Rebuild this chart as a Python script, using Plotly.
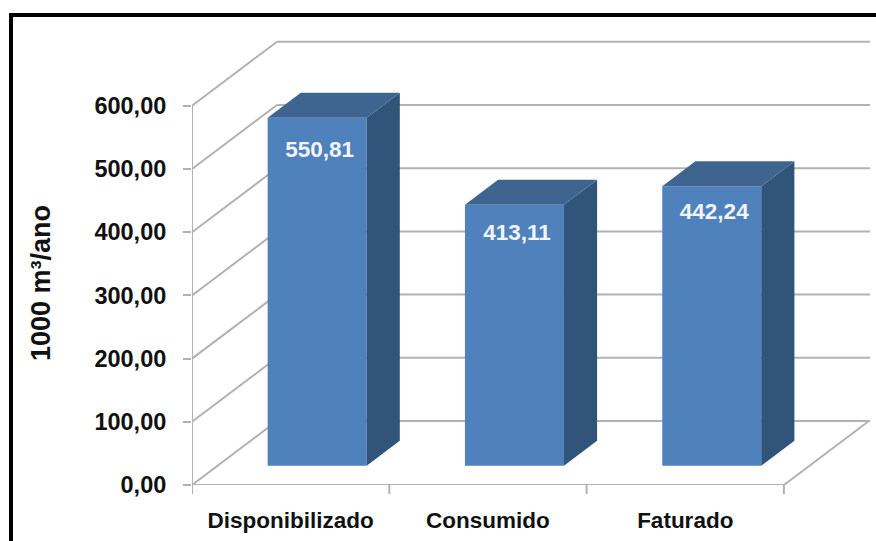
import plotly.graph_objects as go

categories = ["Disponibilizado", "Consumido", "Faturado"]
values = [550.81, 413.11, 442.24]
y_ticks = [0, 100, 200, 300, 400, 500, 600]
y_tick_labels = ["0,00", "100,00", "200,00", "300,00", "400,00", "500,00", "600,00"]
value_labels = ["550,81", "413,11", "442,24"]
y_title = "1000 m³/ano"

# plot area in page pixels and the scale of each axis
L, R, T, B = 192, 876, 30, 485
W, H = 876, 541
PX_X = 197.3   # px per category
PX_Y = 0.632   # px per value unit

# oblique projection of the fake 3D depth (fraction 0..1 of the floor depth)
DEPTH_X = 85 / PX_X
DEPTH_Y = 64 / PX_Y
BAR_NEAR = 0.30
BAR_FAR = 0.69
BAR_W = 99 / PX_X
BAR_SHIFT = 1 / PX_X
X_MIN = -0.5
X_MAX = X_MIN + (R - L) / PX_X
Y_MAX = (B - T) / PX_Y
WALL_END = X_MIN + (870 - L) / PX_X - DEPTH_X  # gridlines end, expressed on the front plane
LABEL_DROP = [34, 30, 27]   # px below the bar top
LABEL_SHIFT = 2.5 / PX_X

GRID = "#b2b2b2"
FRONT = "#4f81bd"
SIDE = "#31547b"
TOP = "#3f648f"
FONT = "Liberation Sans"


def seg(x0, y0, x1, y1, color=GRID, width=2):
    return dict(type="line", xref="x", yref="y", x0=x0, y0=y0, x1=x1, y1=y1,
                line=dict(color=color, width=width), layer="below")


def paper_rect(px0, py0, px1, py1):
    return dict(type="rect", xref="paper", yref="paper",
                x0=(px0 - L) / (R - L), x1=(px1 - L) / (R - L),
                y0=(B - py0) / (B - T), y1=(B - py1) / (B - T),
                fillcolor="#000000", line=dict(width=0), layer="above")


shapes = []
for t in y_ticks:
    shapes.append(seg(X_MIN, t, X_MIN + DEPTH_X, t + DEPTH_Y))
    shapes.append(seg(X_MIN + DEPTH_X, t + DEPTH_Y, WALL_END + DEPTH_X, t + DEPTH_Y))
shapes.append(seg(X_MIN, 0, X_MIN, y_ticks[-1]))
n = len(categories)
shapes.append(seg(X_MIN, 0, X_MIN + n, 0))
shapes.append(seg(X_MIN + n, 0, X_MIN + n + DEPTH_X, DEPTH_Y))
for i in range(n + 1):
    shapes.append(dict(type="line", xref="x", yref="paper", x0=X_MIN + i, x1=X_MIN + i,
                       ysizemode="pixel", yanchor=0, y0=0, y1=-9,
                       line=dict(color=GRID, width=2)))
shapes.append(paper_rect(9, 13, 13, H))
shapes.append(paper_rect(9, 13, W, 17))

fig = go.Figure()
base = BAR_NEAR * DEPTH_Y
cx = [i + BAR_NEAR * DEPTH_X + BAR_SHIFT for i in range(n)]
fig.add_trace(go.Bar(x=cx, y=values, base=[base] * n, width=BAR_W,
                     marker=dict(color=FRONT, line=dict(width=0)), hoverinfo="skip"))

d = BAR_FAR - BAR_NEAR
for c, v in zip(cx, values):
    xr = c + BAR_W / 2
    xl = c - BAR_W / 2
    yt = base + v
    ox, oy = d * DEPTH_X, d * DEPTH_Y
    fig.add_trace(go.Scatter(x=[xr, xr + ox, xr + ox, xr, xr], y=[base, base + oy, yt + oy, yt, base],
                             mode="lines", fill="toself", fillcolor=SIDE, line=dict(width=0),
                             hoverinfo="skip"))
    fig.add_trace(go.Scatter(x=[xl, xl + ox, xr + ox, xr, xl], y=[yt, yt + oy, yt + oy, yt, yt],
                             mode="lines", fill="toself", fillcolor=TOP, line=dict(width=0),
                             hoverinfo="skip"))

fig.add_trace(go.Scatter(x=[c + LABEL_SHIFT for c in cx],
                         y=[base + v - drop / PX_Y for v, drop in zip(values, LABEL_DROP)],
                         mode="text",
                         text=value_labels, textposition="middle center",
                         textfont=dict(family=FONT, size=22.5, color="#f2f6fb", weight="bold"),
                         hoverinfo="skip"))

fig.update_layout(
    width=W, height=H, autosize=False, showlegend=False,
    paper_bgcolor="white", plot_bgcolor="rgba(0,0,0,0)",
    margin=dict(l=L, r=W - R, t=T, b=H - B, pad=0),
    shapes=shapes,
    xaxis=dict(range=[X_MIN, X_MAX], tickvals=list(range(n)), ticktext=categories,
               showgrid=False, zeroline=False, showline=False, ticks="",
               ticklabelstandoff=19,
               tickfont=dict(family=FONT, size=22.5, color="#111111", weight="bold")),
    yaxis=dict(range=[0, Y_MAX], tickvals=y_ticks, ticktext=y_tick_labels,
               showgrid=False, zeroline=False, showline=False,
               ticks="outside", ticklen=8, tickwidth=2, tickcolor=GRID,
               ticklabelstandoff=12,
               tickfont=dict(family=FONT, size=23.5, color="#111111", weight="bold")),
    annotations=[dict(text=y_title, textangle=-90, xref="paper", yref="paper",
                      x=(41 - L) / (R - L), y=(B - 283) / (B - T), showarrow=False,
                      xanchor="center", yanchor="middle",
                      font=dict(family=FONT, size=27, color="#111111", weight="bold"))],
)

fig.write_html("out.html", config={"displayModeBar": False},
               post_script="document.body.style.margin='0';")
